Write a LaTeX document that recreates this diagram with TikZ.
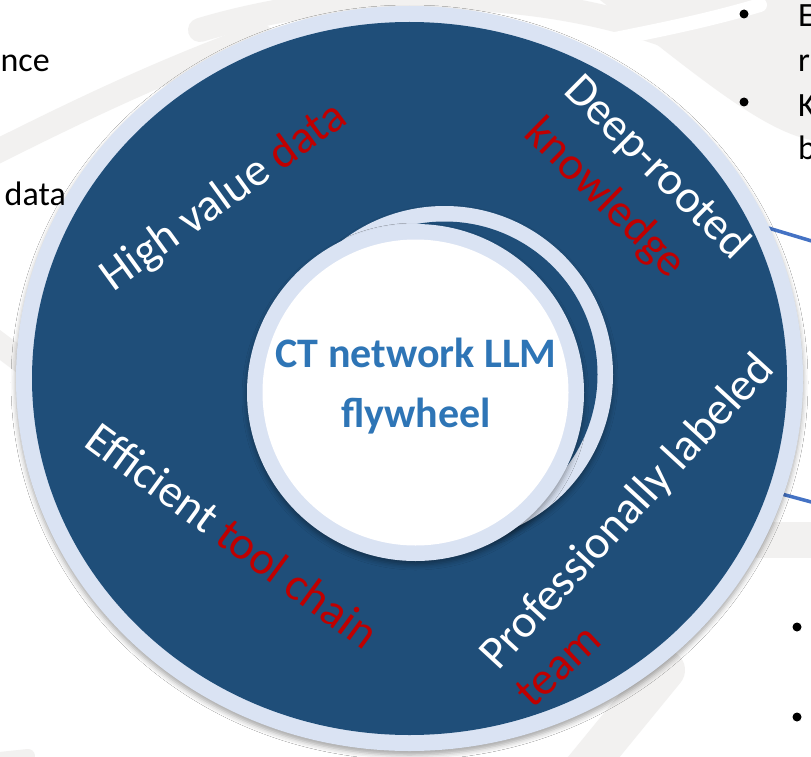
\documentclass[tikz,border=0pt]{standalone}
\usepackage{fontspec}
\setmainfont{Carlito}
\usetikzlibrary{shadows.blur}
\definecolor{ringblue}{HTML}{1F4E79}
\definecolor{bandblue}{HTML}{DAE3F3}
\definecolor{hubblue}{HTML}{2E75B6}
\definecolor{accentred}{HTML}{C00000}
\definecolor{linkblue}{HTML}{4472C4}
\definecolor{swirl}{HTML}{F2F1F0}
\begin{document}
\begin{tikzpicture}[x=1pt,y=-1pt,
  ringlabel/.style={anchor=base west, inner sep=0pt, text=white,
    font=\fontsize{46.5}{50}\selectfont},
  hublabel/.style={anchor=base, inner sep=0pt, text=hubblue,
    font=\bfseries\fontsize{42}{50}\selectfont},
  sidetext/.style={anchor=base west, inner sep=0pt, text=black,
    font=\fontsize{34}{40}\selectfont},
  bulletdot/.style={circle, fill=black, inner sep=0pt, minimum size=9pt},
  swirlstroke/.style={draw=swirl, line width=24pt, line cap=round},
  softshadow/.style={blur shadow={shadow xshift=0pt, shadow yshift=-4pt,
    shadow blur radius=5pt, shadow opacity=35}},
  link/.style={draw=linkblue, line width=3.5pt}
]
\useasboundingbox (0,0) rectangle (811,757);
\clip (0,0) rectangle (811,757);
\fill[white] (0,0) rectangle (811,757);

% faint background swirls
\draw[swirlstroke] (-20,160) .. controls (60,120) and (150,75) .. (260,35);
\draw[swirlstroke] (200,30) .. controls (350,-15) and (550,-15) .. (690,45);
\fill[swirl] (600,0) -- (811,0) -- (811,140) .. controls (760,130) and (690,70) .. (600,0) -- cycle;
\draw[white, line width=14pt, line cap=round] (610,40) .. controls (660,30) and (710,20) .. (760,5);
\draw[swirlstroke] (-20,330) -- (40,375);
\draw[swirlstroke, line width=40pt] (665,670) -- (575,780);
\draw[swirlstroke, line width=36pt] (760,540) -- (830,540);
\draw[swirlstroke, line width=14pt] (-10,760) -- (28,756);

% connectors running off to the right-hand text
\coordinate (l1a) at (765,227);
\coordinate (l1b) at (815,242);
\coordinate (l2a) at (778,493);
\coordinate (l2b) at (815,503);
\draw[link] (l1a) -- (l1b);
\draw[link] (l2a) -- (l2b);

% outer ring
\fill[bandblue, softshadow] (409.5,378.5) ellipse[x radius=393.5pt, y radius=372.5pt];
\fill[ringblue] (409.5,378.5) ellipse[x radius=377.5pt, y radius=356.5pt];

% back hub ring
\fill[bandblue, softshadow] (444.5,374.5) circle[radius=168.5pt];
\fill[ringblue] (444.5,374.5) circle[radius=153pt];

% front hub
\fill[bandblue, softshadow] (415.5,392.5) circle[radius=168.5pt];
\fill[white] (415.5,392.5) circle[radius=153pt];

\node[hublabel] (hub1) at (416,367) {CT network LLM};
\node[hublabel] (hub2) at (416,427) {flywheel};

% ring labels
\node[ringlabel, rotate=35.9] (hv) at (113,293) {High value \textcolor{accentred}{data}};
\node[ringlabel, rotate=-44.7] (dr) at (562,92) {Deep-rooted};
\node[ringlabel, rotate=-44.4, text=accentred] (kn) at (522,135) {knowledge};
\node[ringlabel, rotate=-36.2] (ef) at (82,445) {Efficient \textcolor{accentred}{tool chain}};
\node[ringlabel, rotate=47.4] (pl) at (498,672) {Professionally labeled};
\node[ringlabel, rotate=43, text=accentred] (tm) at (532,710) {team};

% side text fragments
\node[sidetext, anchor=base east] (lt1) at (50,72) {nce};
\node[sidetext, anchor=base east] (lt2) at (66,205) {data};
\node[bulletdot] (rb1) at (744,14) {};
\node[sidetext] (rt1) at (798,27) {E};
\node[sidetext] (rt2) at (798,72) {r};
\node[bulletdot] (rb2) at (744,102) {};
\node[sidetext] (rt3) at (798,117) {K};
\node[sidetext] (rt4) at (798,160) {b};
\node[bulletdot] (rb3) at (797,627) {};
\node[bulletdot] (rb4) at (797,717) {};
\end{tikzpicture}
\end{document}
